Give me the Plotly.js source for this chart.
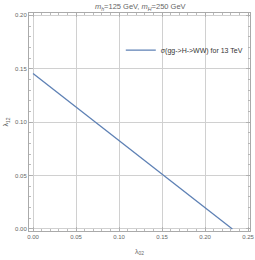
<!DOCTYPE html>
<html><head><meta charset="utf-8">
<script src="https://cdn.plot.ly/plotly-3.0.1.min.js"></script>
<style>html,body{margin:0;padding:0;background:#fff}</style>
</head><body><div id="chart" style="width:255px;height:260px"></div>
<script>
const lambda02 = [0.0, 0.2318];
const lambda12 = [0.1455, 0.0];
const seriesName = "σ(gg->H->WW) for 13 TeV";
const xTicks = [0, 0.05, 0.1, 0.15, 0.2, 0.25];
const xTickText = ["0.00", "0.05", "0.10", "0.15", "0.20", "0.25"];
const yTicks = [0, 0.05, 0.1, 0.15, 0.2];
const yTickText = ["0.00", "0.05", "0.10", "0.15", "0.20"];

const tickFont = {family: "Liberation Sans, Arial, sans-serif", size: 6, color: "#666"};
const axisCommon = {
  showline: true, linecolor: "#aaa", linewidth: 1, mirror: "ticks",
  ticks: "inside", ticklen: 4, tickcolor: "#aaa", tickwidth: 0.8,
  showgrid: true, gridcolor: "#d0d0d0", gridwidth: 1,
  zeroline: false, tickfont: tickFont, ticklabeloverflow: "allow",
  minor: {ticks: "inside", ticklen: 2, tickcolor: "#aaa", showgrid: false}
};
const layout = {
  width: 255, height: 260,
  margin: {l: 29, r: 5, t: 13, b: 29},
  paper_bgcolor: "#fff", plot_bgcolor: "#fff",
  title: {text: "<i>m<sub>h</sub></i>=125 GeV, <i>m<sub>H</sub></i>=250 GeV",
          font: {family: "Liberation Sans, Arial, sans-serif", size: 7.5, color: "#666"},
          x: 0.55, xanchor: "center", y: 0.985, yanchor: "top"},
  xaxis: Object.assign({}, axisCommon, {
    range: [-0.0047, 0.2523], tickvals: xTicks, ticktext: xTickText,
    minor: Object.assign({}, axisCommon.minor, {dtick: 0.01}),
    title: {text: "λ<sub>02</sub>", font: {family: "Liberation Sans, Arial, sans-serif", size: 7, color: "#666"}, standoff: 9}
  }),
  yaxis: Object.assign({}, axisCommon, {
    range: [-0.0019, 0.2022], tickvals: yTicks, ticktext: yTickText,
    minor: Object.assign({}, axisCommon.minor, {dtick: 0.01}),
    title: {text: "λ<sub>12</sub>", font: {family: "Liberation Sans, Arial, sans-serif", size: 7, color: "#666"}, standoff: 5}
  }),
  showlegend: true,
  legend: {x: 0.99, xanchor: "right", y: 0.83, yanchor: "middle",
           bgcolor: "rgba(0,0,0,0)", borderwidth: 0,
           font: {family: "Liberation Sans, Arial, sans-serif", size: 7, color: "#333"},
           itemwidth: 30}
};
const data = [{
  x: lambda02, y: lambda12, mode: "lines", name: seriesName,
  line: {color: "#5e81b5", width: 1.3}
}];
Plotly.newPlot("chart", data, layout, {displayModeBar: false, staticPlot: true});
</script></body></html>
